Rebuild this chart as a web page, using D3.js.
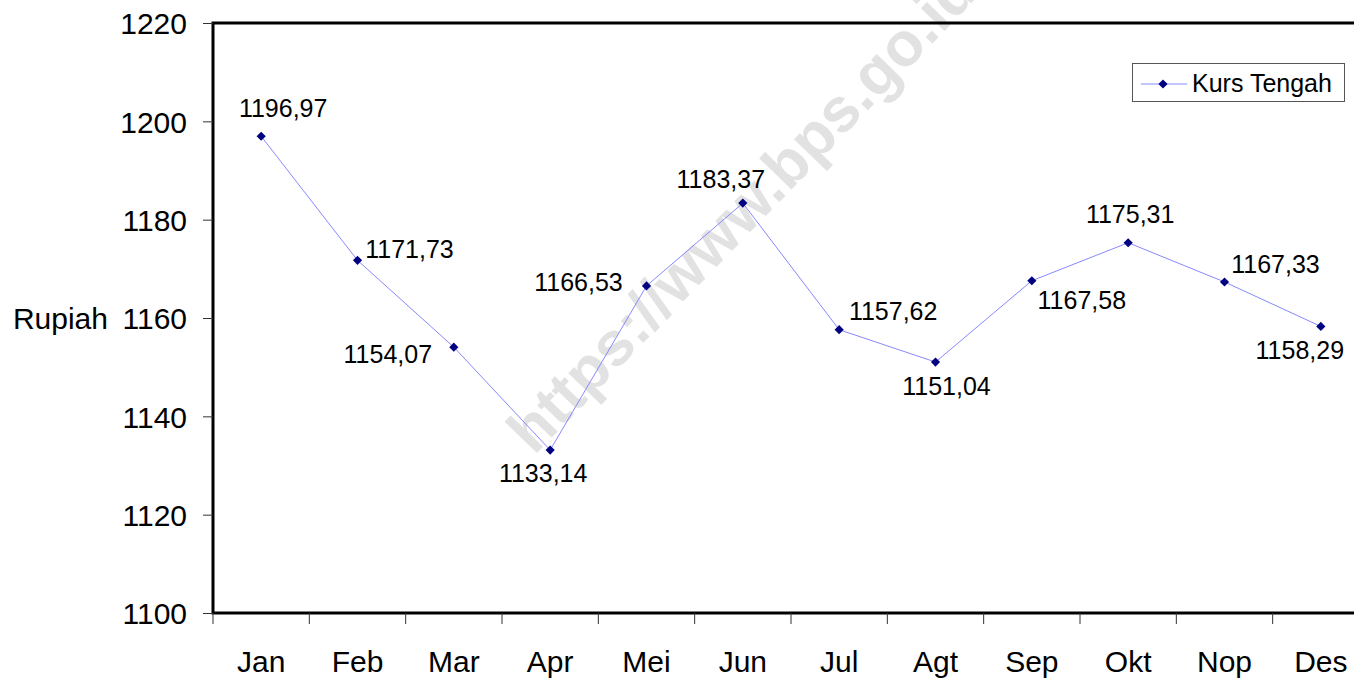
<!DOCTYPE html>
<html>
<head>
<meta charset="utf-8">
<script src="https://cdn.jsdelivr.net/npm/d3@7"></script>
<style>
  html, body { margin: 0; padding: 0; background: #fff; }
  svg { display: block; font-family: "Liberation Sans", Arial, sans-serif; }
</style>
</head>
<body>
<svg id="chart" width="1354" height="683"></svg>
<script>
// ---- data ----
const months = ["Jan", "Feb", "Mar", "Apr", "Mei", "Jun", "Jul", "Agt", "Sep", "Okt", "Nop", "Des"];
const kursTengah = [1196.97, 1171.73, 1154.07, 1133.14, 1166.53, 1183.37, 1157.62, 1151.04, 1167.58, 1175.31, 1167.33, 1158.29];
const valueLabels = ["1196,97", "1171,73", "1154,07", "1133,14", "1166,53", "1183,37", "1157,62", "1151,04", "1167,58", "1175,31", "1167,33", "1158,29"];
const yTicks = [1100, 1120, 1140, 1160, 1180, 1200, 1220];
const seriesName = "Kurs Tengah";
const yAxisTitle = "Rupiah";
const watermark = "https://www.bps.go.id";

// label placement offsets (centre x, baseline y) relative to each point
const labelOffsets = [[22, -19], [52, -2], [-66, 16], [-7, 32], [-68, 5], [-22, -15],
                      [54, -10], [11, 33], [50, 28], [2, -20], [51, -9], [-21, 33]];

const svg = d3.select("#chart");
const plotL = 213, plotR = 1369, plotT = 23, plotB = 613;

const x = d3.scaleBand().domain(months).range([plotL, plotR]);
const y = d3.scaleLinear().domain([1100, 1220]).range([plotB, plotT]);

// watermark
svg.append("text")
  .attr("transform", "translate(534,456) rotate(-46)")
  .attr("font-size", 62)
  .attr("font-weight", "bold")
  .attr("fill", "#e2e2e2")
  .text(watermark);

// frame
svg.append("rect")
  .attr("x", plotL).attr("y", plotT)
  .attr("width", plotR - plotL).attr("height", plotB - plotT)
  .attr("fill", "none").attr("stroke", "#000").attr("stroke-width", 3);

// y axis
const yAxis = svg.append("g")
  .attr("transform", `translate(${plotL},0)`)
  .call(d3.axisLeft(y).tickValues(yTicks).tickSize(10).tickPadding(16).tickFormat(d3.format("d")));
yAxis.select(".domain").remove();
yAxis.selectAll(".tick line").attr("stroke", "#333").attr("stroke-width", 1);
yAxis.selectAll(".tick text").attr("font-size", 30).attr("fill", "#000")
  .attr("font-family", "Liberation Sans, Arial, sans-serif").attr("dy", "0.36em");

// y axis title
svg.append("text")
  .attr("x", 108).attr("y", y(1160)).attr("dy", "0.36em")
  .attr("text-anchor", "end").attr("font-size", 30).attr("fill", "#000")
  .text(yAxisTitle);

// x axis boundary ticks
const bounds = months.map(m => x(m)).concat([plotR]);
svg.append("g").selectAll("line").data(bounds).join("line")
  .attr("x1", d => d).attr("x2", d => d)
  .attr("y1", plotB).attr("y2", plotB + 11)
  .attr("stroke", "#333").attr("stroke-width", 1);

// x axis labels
const xAxis = svg.append("g")
  .attr("transform", `translate(0,${plotB})`)
  .call(d3.axisBottom(x).tickSize(0).tickPadding(38));
xAxis.select(".domain").remove();
xAxis.selectAll(".tick text").attr("font-size", 30).attr("fill", "#000")
  .attr("font-family", "Liberation Sans, Arial, sans-serif");

// line
const cx = (m) => x(m) + x.bandwidth() / 2;
const line = d3.line().x((d, i) => cx(months[i])).y(d => y(d));
svg.append("path")
  .datum(kursTengah)
  .attr("d", line)
  .attr("fill", "none").attr("stroke", "#8888ff").attr("stroke-width", 1);

// markers
const diamond = d3.symbol().type(d3.symbolSquare).size(42);
svg.append("g").selectAll("path").data(kursTengah).join("path")
  .attr("d", diamond)
  .attr("transform", (d, i) => `translate(${cx(months[i])},${y(d)}) rotate(45)`)
  .attr("fill", "#000080");

// data labels
svg.append("g").selectAll("text").data(kursTengah).join("text")
  .attr("x", (d, i) => cx(months[i]) + labelOffsets[i][0])
  .attr("y", (d, i) => y(d) + labelOffsets[i][1])
  .attr("text-anchor", "middle")
  .attr("font-size", 25).attr("fill", "#000")
  .text((d, i) => valueLabels[i]);

// legend
const lg = svg.append("g");
lg.append("rect").attr("x", 1132.5).attr("y", 63.5).attr("width", 212).attr("height", 38)
  .attr("fill", "#fff").attr("stroke", "#555").attr("stroke-width", 1);
lg.append("line").attr("x1", 1141).attr("x2", 1187).attr("y1", 84).attr("y2", 84)
  .attr("stroke", "#8888ff").attr("stroke-width", 1);
lg.append("path").attr("d", diamond).attr("transform", "translate(1163,84) rotate(45)").attr("fill", "#000080");
lg.append("text").attr("x", 1192).attr("y", 92).attr("font-size", 25).attr("fill", "#000").text(seriesName);
</script>
</body>
</html>
